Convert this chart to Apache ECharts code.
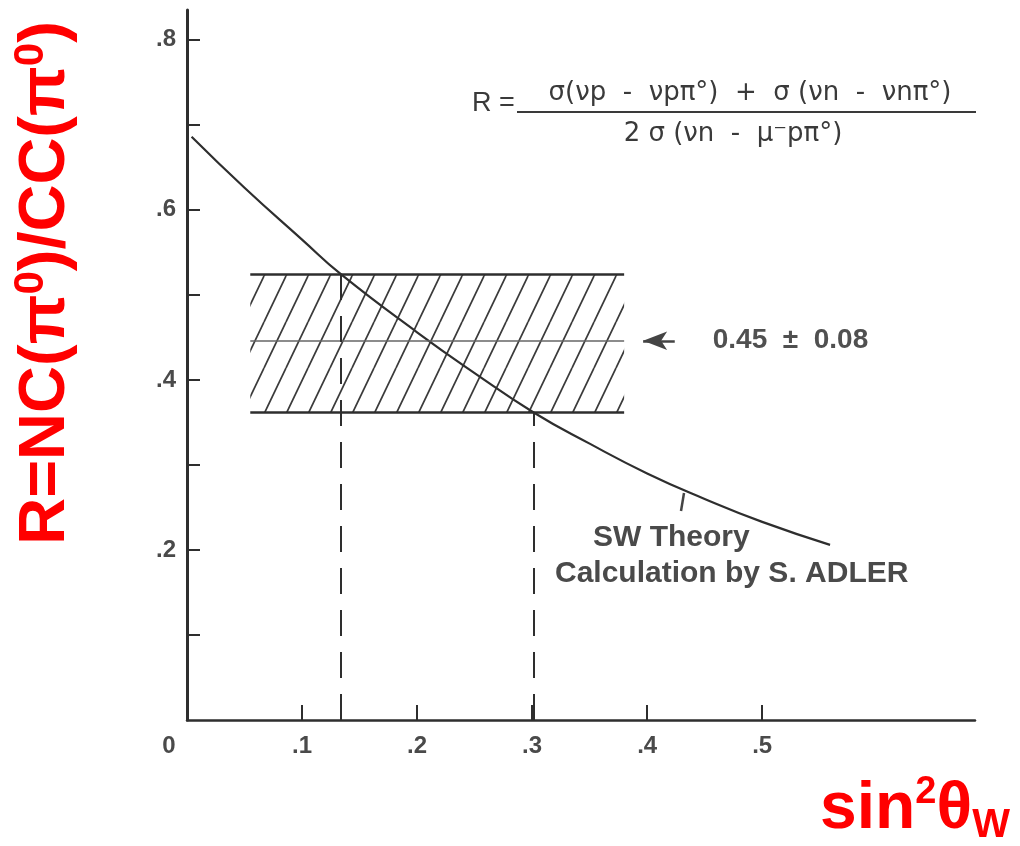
<!DOCTYPE html>
<html>
<head>
<meta charset="utf-8">
<script src="https://cdn.jsdelivr.net/npm/echarts@6/dist/echarts.min.js"></script>
<style>
  html, body { margin: 0; padding: 0; background: #fff; }
  #myChart { width: 1020px; height: 846px; }
</style>
</head>
<body>
<div id="myChart"></div>
<script>
// SW theory curve (S. Adler)
var curveX = [0.004, 0.05, 0.1, 0.134, 0.2, 0.25, 0.301, 0.35, 0.4, 0.45, 0.5, 0.559]
var curveY = [0.686, 0.626, 0.565, 0.524, 0.456, 0.408, 0.362, 0.325, 0.29, 0.26, 0.233, 0.206]

// measured R = 0.45 +- 0.08, drawn as a hatched band
var bandX = [0.055, 0.38]
var bandLevels = [0.524, 0.446, 0.362]   // top, centre, bottom
var crossX = [0.134, 0.301]              // curve leaves the band here

// arrow pointing at the band
var arrowX = [0.3965, 0.424]
var arrowLabel = '0.45  ±  0.08'

var xTickValues = [0.1, 0.2, 0.3, 0.4, 0.5]
var xLabelValues = [0, 0.1, 0.2, 0.3, 0.4, 0.5]
var yTickValues = [0.1, 0.2, 0.3, 0.4, 0.5, 0.6, 0.7, 0.8]
var yLabelValues = [0.2, 0.4, 0.6, 0.8]

var ink = '#2e2e2e'
var gray = '#4a4a4a'
var red = '#ff0000'

function hatchPattern () {
  var w = 22, h = 46
  var c = document.createElement('canvas')
  c.width = w
  c.height = h
  var ctx = c.getContext('2d')
  ctx.strokeStyle = '#3a3a3a'
  ctx.lineWidth = 1.7
  for (var k = -1; k <= 1; k++) {
    ctx.beginPath()
    ctx.moveTo(k * w, h)
    ctx.lineTo(k * w + w, 0)
    ctx.stroke()
  }
  return c
}

function dotLabel (v) {
  return '.' + Math.round(v * 10)
}

var curveData = curveX.map(function (x, i) { return [x, curveY[i]] })

var bandLine = function (y, color, width) {
  return [
    { coord: [bandX[0], y], lineStyle: { color: color, width: width, type: 'solid' } },
    { coord: [bandX[1], y] }
  ]
}
var dashLine = function (x, y) {
  return [
    { coord: [x, 0], lineStyle: { color: ink, width: 2, type: [26, 16] } },
    { coord: [x, y] }
  ]
}

var labelFont = { color: gray, fontSize: 24, fontWeight: 'bold', fontFamily: 'Liberation Sans' }

var options = {
  animation: false,
  grid: { left: 187, right: 45, top: 10, bottom: 126, outerBoundsMode: 'none' },
  xAxis: {
    type: 'value',
    min: 0,
    max: 0.685,
    interval: 0.1,
    splitLine: { show: false },
    axisLine: { lineStyle: { color: ink, width: 2.5 } },
    axisTick: { inside: true, length: 15, customValues: xTickValues, lineStyle: { color: ink, width: 2 } },
    axisLabel: Object.assign({
      customValues: xLabelValues,
      margin: 14,
      formatter: function (v) { return v === 0 ? '{z|0}' : dotLabel(v) },
      rich: { z: { padding: [0, 36, 0, 0], color: gray, fontSize: 24, fontWeight: 'bold', fontFamily: 'Liberation Sans' } }
    }, labelFont)
  },
  yAxis: {
    type: 'value',
    min: 0,
    max: 0.835,
    interval: 0.1,
    splitLine: { show: false },
    axisLine: { lineStyle: { color: ink, width: 3 } },
    axisTick: { inside: true, length: 13, customValues: yTickValues, lineStyle: { color: ink, width: 2 } },
    axisLabel: Object.assign({
      customValues: yLabelValues,
      margin: 11,
      formatter: dotLabel
    }, labelFont)
  },
  series: [{
    name: 'SW Theory',
    type: 'line',
    data: curveData,
    smooth: true,
    showSymbol: false,
    lineStyle: { color: ink, width: 2.2 },
    markArea: {
      silent: true,
      itemStyle: { color: { image: hatchPattern(), repeat: 'repeat' } },
      data: [[{ coord: [bandX[0], bandLevels[2]] }, { coord: [bandX[1], bandLevels[0]] }]]
    },
    markLine: {
      silent: true,
      symbol: 'none',
      label: { show: false },
      data: [
        bandLine(bandLevels[0], ink, 2.5),
        bandLine(bandLevels[1], '#666', 1.6),
        bandLine(bandLevels[2], ink, 2.5),
        dashLine(crossX[0], bandLevels[0]),
        dashLine(crossX[1], bandLevels[2]),
        [
          { coord: [arrowX[0], bandLevels[1]], symbol: 'arrow', symbolSize: [14, 24],
            lineStyle: { color: '#444', width: 2.5, type: 'solid' },
            label: {
              show: true, position: 'end', distance: 38, formatter: arrowLabel,
              color: '#505050', fontSize: 28, fontWeight: 'bold', fontFamily: 'Liberation Sans'
            } },
          { coord: [arrowX[1], bandLevels[1]], symbol: 'none' }
        ]
      ]
    }
  }],
  graphic: [
    // formula
    { type: 'text', x: 472, y: 104, style: { text: 'R =', fill: '#3a3a3a', font: '27px "Liberation Sans"', verticalAlign: 'middle' } },
    { type: 'text', x: 750, y: 93, style: { text: 'σ(νp  -  νpπ°)  +  σ (νn  -  νnπ°)', fill: '#3a3a3a', font: '26px "DejaVu Sans"', align: 'center', verticalAlign: 'middle' } },
    { type: 'line', shape: { x1: 517, y1: 112, x2: 976, y2: 112 }, style: { stroke: '#3a3a3a', lineWidth: 2 } },
    { type: 'text', x: 733, y: 134, style: { text: '2 σ (νn  -  μ⁻pπ°)', fill: '#3a3a3a', font: '26px "DejaVu Sans"', align: 'center', verticalAlign: 'middle' } },
    // curve annotation
    { type: 'line', shape: { x1: 684, y1: 493, x2: 681, y2: 511 }, style: { stroke: '#444', lineWidth: 2.5 } },
    { type: 'text', x: 593, y: 538, style: { text: 'SW Theory', fill: '#4a4a4a', font: 'bold 30px "Liberation Sans"', verticalAlign: 'middle' } },
    { type: 'text', x: 555, y: 574, style: { text: 'Calculation by S. ADLER', fill: '#4a4a4a', font: 'bold 30px "Liberation Sans"', verticalAlign: 'middle' } },
    // axis titles
    {
      type: 'text', x: 46, y: 283, rotation: Math.PI / 2,
      style: {
        text: '{a|R=NC(π}{s|0}{a|)/CC(π}{s|0}{a|)}',
        align: 'center', verticalAlign: 'middle',
        rich: {
          a: { fontSize: 65, fontWeight: 'bold', fontFamily: 'Liberation Sans', fill: red, lineHeight: 72 },
          s: { fontSize: 42, fontWeight: 'bold', fontFamily: 'Liberation Sans', fill: red, verticalAlign: 'top' }
        }
      }
    },
    {
      type: 'text', x: 820, y: 810,
      style: {
        text: '{a|sin}{s|2}{a|θ}{w|W}',
        align: 'left', verticalAlign: 'middle',
        rich: {
          a: { fontSize: 66, fontWeight: 'bold', fontFamily: 'Liberation Sans', fill: red, lineHeight: 72 },
          s: { fontSize: 38, fontWeight: 'bold', fontFamily: 'Liberation Sans', fill: red, verticalAlign: 'top' },
          w: { fontSize: 40, fontWeight: 'bold', fontFamily: 'Liberation Sans', fill: red, verticalAlign: 'bottom' }
        }
      }
    }
  ]
}

var myChart = echarts.init(document.getElementById('myChart'))
myChart.setOption(options)
</script>
</body>
</html>
